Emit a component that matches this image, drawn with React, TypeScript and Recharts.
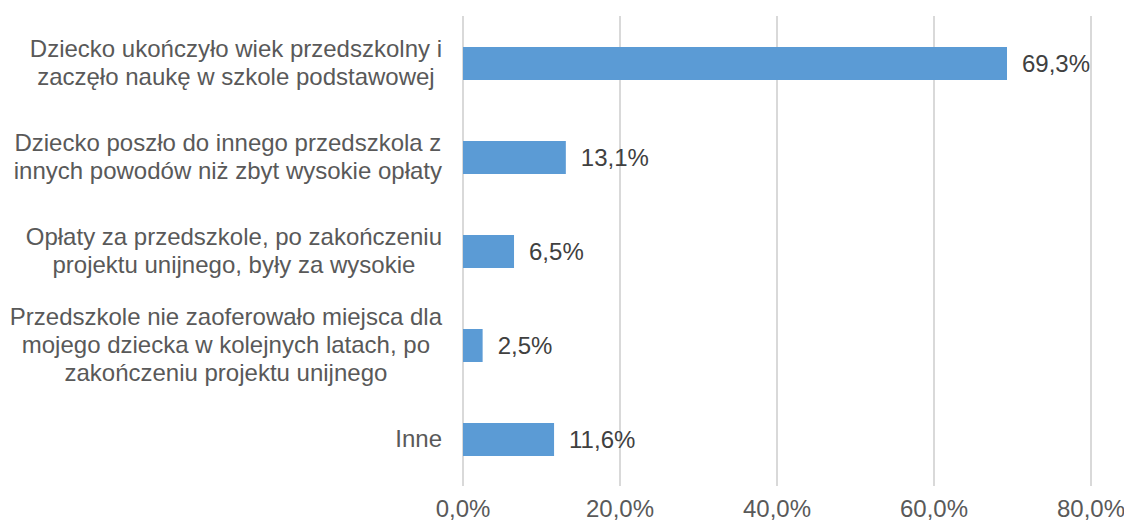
import { Bar, BarChart, CartesianGrid, LabelList, XAxis, YAxis } from 'recharts';

const CATEGORIES = [
  'Dziecko ukończyło wiek przedszkolny i\nzaczęło naukę w szkole podstawowej',
  'Dziecko poszło do innego przedszkola z\ninnych powodów niż zbyt wysokie opłaty',
  'Opłaty za przedszkole, po zakończeniu\nprojektu unijnego, były za wysokie',
  'Przedszkole nie zaoferowało miejsca dla\nmojego dziecka w kolejnych latach, po\nzakończeniu projektu unijnego',
  'Inne',
];
const VALUES = [69.3, 13.1, 6.5, 2.5, 11.6];
const X_TICKS = [0, 20, 40, 60, 80];

const data = CATEGORIES.map((name, i) => ({ name, value: VALUES[i] }));

const FONT = '"Liberation Sans", Arial, sans-serif';
const FONT_SIZE = 24;
const LINE_H = 28;

let ctx: CanvasRenderingContext2D | null = null;
const measure = (s: string) => {
  if (!ctx) ctx = document.createElement('canvas').getContext('2d');
  if (!ctx) return s.length * FONT_SIZE * 0.5;
  ctx.font = `${FONT_SIZE}px "Liberation Sans"`;
  return ctx.measureText(s).width;
};

const fmt = (v: number) => v.toFixed(1).replace('.', ',') + '%';

const CategoryTick = (props: any) => {
  const { x, y, payload } = props;
  const lines: string[] = String(payload.value).split('\n');
  const maxW = Math.max(...lines.map(measure));
  const cx = x - maxW / 2;
  const startY = y - ((lines.length - 1) * LINE_H) / 2;
  return (
    <text textAnchor="middle" fill="#595959" fontSize={FONT_SIZE} fontFamily={FONT}>
      {lines.map((l, i) => (
        <tspan key={i} x={cx} y={startY + i * LINE_H} dy="0.35em">
          {l}
        </tspan>
      ))}
    </text>
  );
};

export default function App() {
  return (
    <div style={{ position: 'absolute', left: 0, top: 0, background: '#fff' }}>
      <BarChart
        width={1124}
        height={522}
        data={data}
        layout="vertical"
        margin={{ top: 16, right: 33, bottom: 0, left: 0 }}
      >
        <CartesianGrid horizontal={false} stroke="#d9d9d9" strokeWidth={2} />
        <XAxis
          type="number"
          domain={[0, 80]}
          ticks={X_TICKS}
          tickFormatter={fmt}
          axisLine={false}
          tickLine={false}
          height={36}
          tickMargin={8}
          tick={{ fill: '#595959', fontSize: FONT_SIZE, fontFamily: FONT }}
        />
        <YAxis
          type="category"
          dataKey="name"
          width={463}
          axisLine={false}
          tickLine={false}
          tickMargin={15}
          tick={<CategoryTick />}
        />
        <Bar dataKey="value" fill="#5b9bd5" barSize={33} isAnimationActive={false}>
          <LabelList
            dataKey="value"
            position="right"
            offset={15}
            formatter={(v: any) => fmt(Number(v))}
            fill="#404040"
            fontSize={FONT_SIZE}
            fontFamily={FONT}
          />
        </Bar>
      </BarChart>
    </div>
  );
}
